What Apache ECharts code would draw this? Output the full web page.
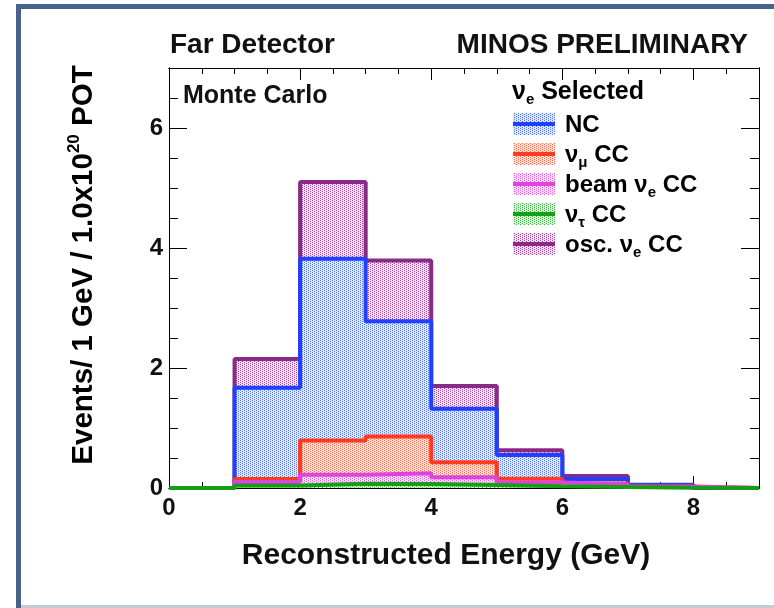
<!DOCTYPE html>
<html><head><meta charset="utf-8">
<script src="https://cdn.jsdelivr.net/npm/echarts@6/dist/echarts.min.js"></script>
<style>html,body{margin:0;padding:0;background:#fff}#c{width:774px;height:608px}</style>
</head><body><div id="c"></div>
<script>
// Bin edges (GeV) and per-bin contributions (events / 1 GeV / 1e20 POT)
const binEdges = [0, 1, 2, 3, 4, 5, 6, 7, 8, 9];
const nuTauCC  = [0, 0.04, 0.07, 0.065, 0.05, 0.03, 0.015, 0.005, 0];
const beamNueCC= [0, 0.06, 0.15, 0.18, 0.13, 0.06, 0.045, 0.015, 0];
const nuMuCC   = [0, 0.05, 0.57, 0.615, 0.25, 0.065, 0.015, 0.005, 0];
const ncVals   = [0, 1.52, 3.03, 1.92, 0.89, 0.395, 0.075, 0.025, 0];
const oscNueCC = [0, 0.48, 1.28, 1.01, 0.38, 0.08, 0.05, 0.005, 0];
const xTickLabels = ['0', '2', '4', '6', '8'];
const yTickLabels = ['0', '2', '4', '6'];

const FONT = 'Liberation Sans';

function pattern(bg, dot) {
  const c = document.createElement('canvas');
  c.width = 4; c.height = 4;
  const g = c.getContext('2d');
  g.fillStyle = bg; g.fillRect(0, 0, 4, 4);
  g.fillStyle = dot;
  [[0,0],[2,1],[0,2],[2,3]].forEach(p => g.fillRect(p[0], p[1], 1, 1));
  return { image: c, repeat: 'repeat' };
}

// stack bottom -> top
const layers = [
  { name: 'ντ CC', vals: nuTauCC, line: '#169e16', fill: pattern('#dff2df', '#40b040') },
  { name: 'beam νe CC', vals: beamNueCC, line: '#dd44dd', fill: pattern('#f8e2f8', '#e060e0') },
  { name: 'νμ CC', vals: nuMuCC, line: '#ff3b1f', fill: pattern('#fde6df', '#ff6a4a') },
  { name: 'NC', vals: ncVals, line: '#2040ff', fill: pattern('#e2e8fc', '#5577ee') },
  { name: 'osc. νe CC', vals: oscNueCC, line: '#8a2a87', fill: pattern('#efe2ee', '#a04a9a') }
];
let run = new Array(nuTauCC.length).fill(0);
layers.forEach(l => {
  run = run.map((v, i) => v + l.vals[i]);
  l.cum = run.slice();
});

function stepData(cum) {
  const d = [];
  for (let i = 0; i < cum.length; i++) d.push([binEdges[i], cum[i]]);
  d.push([binEdges[binEdges.length - 1], cum[cum.length - 1]]);
  return d;
}

const series = layers.slice().reverse().map((l, k) => ({
  type: 'line', name: l.name, step: 'end', symbol: 'none',
  data: stepData(l.cum),
  lineStyle: { color: l.line, width: 4 },
  areaStyle: { color: l.fill, opacity: 1 },
  xAxisIndex: 0, yAxisIndex: 0,
  z: 5 + k,
  clip: false
}));

const lab = { fontFamily: FONT, fontWeight: 'bold', fontSize: 24, color: '#111' };
const axLine = { show: true, onZero: false, lineStyle: { color: '#000', width: 1 } };
function xAx(pos, major, labels) {
  return {
    type: 'value', min: 0, max: 9, interval: major ? 2 : 0.5, position: pos,
    axisLine: axLine, splitLine: { show: false },
    axisTick: { show: true, inside: true, length: major ? 12 : 6, lineStyle: { color: '#000', width: 1 } },
    axisLabel: labels ? Object.assign({ show: true, margin: 8, showMaxLabel: false,
      formatter: v => xTickLabels.indexOf(String(v)) >= 0 ? String(v) : '' }, lab) : { show: false }
  };
}
function yAx(pos, major, labels) {
  return {
    type: 'value', min: 0, max: 7, interval: major ? 2 : 0.5, position: pos,
    axisLine: axLine, splitLine: { show: false },
    axisTick: { show: true, inside: true, length: major ? 18 : 9, lineStyle: { color: '#000', width: 1 } },
    axisLabel: labels ? Object.assign({ show: true, margin: 6, showMaxLabel: false,
      formatter: v => yTickLabels.indexOf(String(v)) >= 0 ? String(v) : '' }, lab) : { show: false }
  };
}

const rich = {
  n: { fontFamily: FONT, fontWeight: 'bold', fontSize: 24, lineHeight: 30, color: '#111' },
  s: { fontFamily: FONT, fontWeight: 'bold', fontSize: 15, lineHeight: 14, verticalAlign: 'bottom', color: '#111' }
};
const legendRows = [
  { text: '{n|NC}', idx: 3, y: 124 },
  { text: '{n|ν}{s|μ}{n| CC}', idx: 2, y: 154 },
  { text: '{n|beam ν}{s|e}{n| CC}', idx: 1, y: 184 },
  { text: '{n|ν}{s|τ}{n| CC}', idx: 0, y: 214 },
  { text: '{n|osc. ν}{s|e}{n| CC}', idx: 4, y: 244 }
];
const graphics = [
  { type: 'rect', shape: { x: 16, y: 4, width: 760, height: 5 }, style: { fill: '#48628a' }, silent: true },
  { type: 'rect', shape: { x: 16, y: 4, width: 5, height: 604 }, style: { fill: '#48628a' }, silent: true },
  { type: 'rect', shape: { x: 21, y: 605, width: 760, height: 3 }, style: { fill: '#c3ccd4' }, silent: true },
  { type: 'text', x: 170, y: 45, style: { text: 'Far Detector', font: 'bold 28px "Liberation Sans"', fill: '#111', textAlign: 'left', textVerticalAlign: 'middle' } },
  { type: 'text', x: 748, y: 45, style: { text: 'MINOS PRELIMINARY', font: 'bold 28px "Liberation Sans"', fill: '#111', textAlign: 'right', textVerticalAlign: 'middle' } },
  { type: 'text', x: 183, y: 96, z: 20, style: { text: 'Monte Carlo', font: 'bold 25px "Liberation Sans"', fill: '#111', textAlign: 'left', textVerticalAlign: 'middle' } },
  { type: 'text', x: 446, y: 556, style: { text: 'Reconstructed Energy (GeV)', font: 'bold 30px "Liberation Sans"', fill: '#111', textAlign: 'center', textVerticalAlign: 'middle' } },
  { type: 'text', x: 84, y: 265, rotation: Math.PI / 2, style: {
      text: '{n|Events/ 1 GeV / 1.0x10}{p|20}{n| POT}', textAlign: 'center', textVerticalAlign: 'middle',
      rich: {
        n: { fontFamily: FONT, fontWeight: 'bold', fontSize: 29.5, lineHeight: 36, color: '#111' },
        p: { fontFamily: FONT, fontWeight: 'bold', fontSize: 17, lineHeight: 17, verticalAlign: 'top', color: '#111' }
      } } },
  { type: 'text', x: 512, y: 92, z: 20, style: { text: '{n|ν}{s|e}{n| Selected}', textAlign: 'left', textVerticalAlign: 'middle',
      rich: { n: Object.assign({}, rich.n, { fontSize: 25 }), s: rich.s } } }
];
legendRows.forEach(r => {
  const l = layers[r.idx];
  graphics.push({ type: 'rect', z: 20, shape: { x: 513, y: r.y - 11, width: 42, height: 22 }, style: { fill: l.fill } });
  graphics.push({ type: 'line', z: 21, shape: { x1: 513, y1: r.y, x2: 555, y2: r.y }, style: { stroke: l.line, lineWidth: 4 } });
  graphics.push({ type: 'text', z: 21, x: 565, y: r.y + 1, style: { text: r.text, rich: rich, textAlign: 'left', textVerticalAlign: 'middle' } });
});

const chart = echarts.init(document.getElementById('c'), null, { renderer: 'canvas' });
chart.setOption({
  animation: false,
  backgroundColor: '#fff',
  grid: { left: 169, top: 68, width: 590, height: 420, containLabel: false },
  xAxis: [xAx('bottom', true, true), xAx('bottom', false, false), xAx('top', true, false), xAx('top', false, false)],
  yAxis: [yAx('left', true, true), yAx('left', false, false), yAx('right', true, false), yAx('right', false, false)],
  series: series,
  graphic: graphics
});
</script></body></html>
